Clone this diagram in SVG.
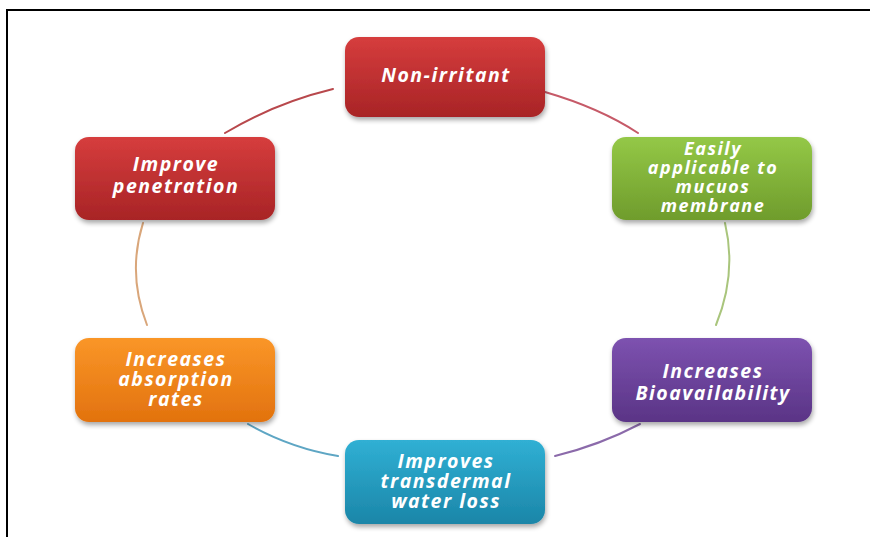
<svg xmlns="http://www.w3.org/2000/svg" width="870" height="537" viewBox="0 0 870 537">
<style>
.lbl{font-family:"Open Sans",Lato,"Liberation Sans",sans-serif;font-weight:bold;font-style:italic;font-size:19.5px;letter-spacing:1.5px;fill:#ffffff;text-anchor:middle}
.sm{font-size:18px}
.arc{fill:none;stroke-width:2;stroke-linecap:round}
.box{filter:url(#sh)}
</style>
<defs>
<filter id="sh" x="-10%" y="-10%" width="125%" height="130%">
<feGaussianBlur in="SourceAlpha" stdDeviation="2.5"/>
<feOffset dx="1" dy="3" result="b"/>
<feComponentTransfer><feFuncA type="linear" slope="0.35"/></feComponentTransfer>
<feMerge><feMergeNode/><feMergeNode in="SourceGraphic"/></feMerge>
</filter>
<linearGradient id="gRed" x1="0" y1="0" x2="0" y2="1"><stop offset="0" stop-color="#d63d3d"/><stop offset="1" stop-color="#a82426"/></linearGradient>
<linearGradient id="gGreen" x1="0" y1="0" x2="0" y2="1"><stop offset="0" stop-color="#94c847"/><stop offset="1" stop-color="#6f9c2c"/></linearGradient>
<linearGradient id="gPurple" x1="0" y1="0" x2="0" y2="1"><stop offset="0" stop-color="#7d52b0"/><stop offset="1" stop-color="#5a3486"/></linearGradient>
<linearGradient id="gOrange" x1="0" y1="0" x2="0" y2="1"><stop offset="0" stop-color="#fa9628"/><stop offset="1" stop-color="#e2720e"/></linearGradient>
<linearGradient id="gBlue" x1="0" y1="0" x2="0" y2="1"><stop offset="0" stop-color="#30b0d4"/><stop offset="1" stop-color="#1b86a8"/></linearGradient>
</defs>
<rect x="0" y="0" width="870" height="537" fill="#ffffff"/>
<path d="M7,537 L7,10 L870,10" fill="none" stroke="#000000" stroke-width="2"/>
<g id="connectors">
<path class="arc" d="M333,89 Q275,103 225,133" stroke="#b8484c"/>
<path class="arc" d="M545,92 Q600,108 638,133" stroke="#c65a68"/>
<path class="arc" d="M143,223 Q127,274 147,325" stroke="#d9a67a"/>
<path class="arc" d="M725,223 Q737,274 716,325" stroke="#a9c57c"/>
<path class="arc" d="M248,424 Q290,448 338,456" stroke="#5ea6c4"/>
<path class="arc" d="M555,456 Q600,445 640,424" stroke="#8b6aaa"/>
</g>
<g id="node-nonirritant">
<rect class="box" x="345" y="37" width="200" height="80" rx="14" fill="url(#gRed)"/>
<text class="lbl" x="446" y="82">Non-irritant</text>
</g>
<g id="node-easily">
<rect class="box" x="612" y="137" width="200" height="83" rx="14" fill="url(#gGreen)"/>
<text class="lbl sm" x="713" y="155">Easily</text>
<text class="lbl sm" x="713" y="174">applicable to</text>
<text class="lbl sm" x="713" y="193">mucuos</text>
<text class="lbl sm" x="713" y="212">membrane</text>
</g>
<g id="node-penetration">
<rect class="box" x="75" y="137" width="200" height="83" rx="14" fill="url(#gRed)"/>
<text class="lbl" x="176" y="171">Improve</text>
<text class="lbl" x="176" y="193">penetration</text>
</g>
<g id="node-bioavailability">
<rect class="box" x="612" y="338" width="200" height="84" rx="14" fill="url(#gPurple)"/>
<text class="lbl" x="713" y="378">Increases</text>
<text class="lbl" x="713" y="400">Bioavailability</text>
</g>
<g id="node-absorption">
<rect class="box" x="75" y="338" width="200" height="84" rx="14" fill="url(#gOrange)"/>
<text class="lbl" x="176" y="366">Increases</text>
<text class="lbl" x="176" y="386">absorption</text>
<text class="lbl" x="176" y="406">rates</text>
</g>
<g id="node-transdermal">
<rect class="box" x="345" y="440" width="200" height="84" rx="14" fill="url(#gBlue)"/>
<text class="lbl" x="446" y="468">Improves</text>
<text class="lbl" x="446" y="488">transdermal</text>
<text class="lbl" x="446" y="508">water loss</text>
</g>
</svg>
